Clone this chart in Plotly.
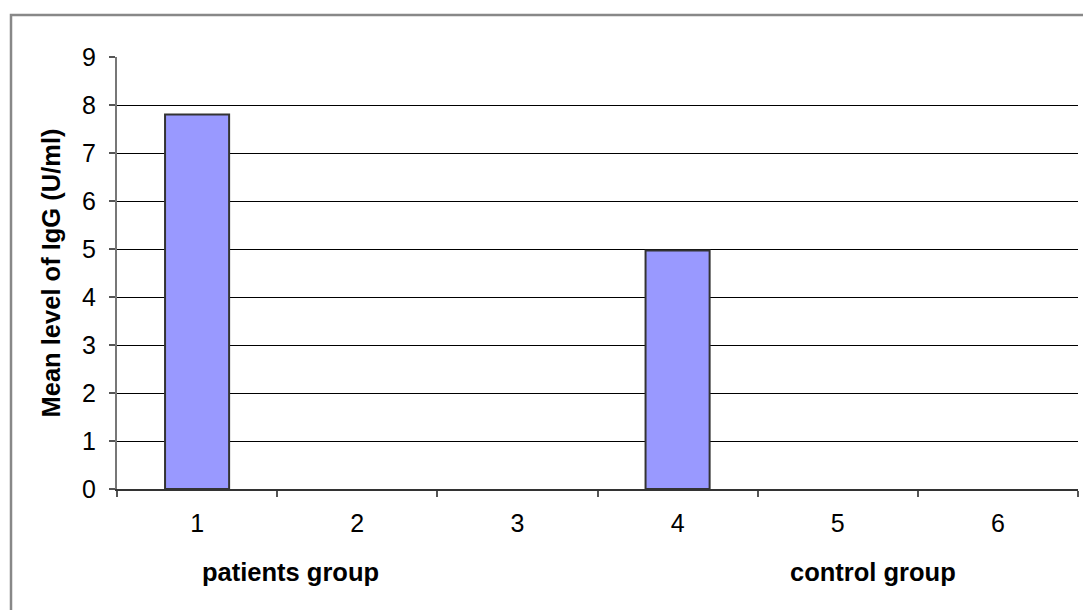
import plotly.graph_objects as go

categories = ["1", "2", "3", "4", "5", "6"]
values = [7.8, None, None, 4.97, None, None]
group_labels = ["patients group", "control group"]
y_title = "Mean level of IgG (U/ml)"

W, H = 1083, 610
L, R, T, B = 117, 5, 57, 121
pw, ph = W - L - R, H - T - B

def px_x(x):
    return (x - L) / pw

def px_y(y):
    return (H - B - y) / ph

fig = go.Figure()
fig.add_trace(go.Bar(
    x=categories, y=values, width=0.4,
    marker=dict(color="#9999FF", line=dict(color="#333333", width=2)),
))

font = dict(family="Liberation Sans, Arial, sans-serif", color="#000000")

fig.update_layout(
    width=W, height=H,
    margin=dict(l=L, r=R, t=T, b=B),
    plot_bgcolor="white", paper_bgcolor="white",
    showlegend=False,
    font=dict(**font, size=25),
    xaxis=dict(
        type="category", range=[-0.5, 5.5],
        tickson="boundaries", ticks="outside", ticklen=6, tickwidth=2,
        tickcolor="#555555", showgrid=False,
        showline=True, linecolor="#333333", linewidth=2,
        tickfont=dict(**font, size=25), ticklabelstandoff=11,
    ),
    yaxis=dict(
        range=[0, 9], dtick=1, ticks="outside", ticklen=6, tickwidth=2,
        tickcolor="#555555",
        showgrid=True, gridcolor="#000000", gridwidth=1,
        showline=True, linecolor="#777777", linewidth=2,
        zeroline=False,
        tickfont=dict(**font, size=25), ticklabelstandoff=8,
        title=dict(text="<b>" + y_title + "</b>", font=dict(**font, size=25.5), standoff=14),
    ),
    annotations=[
        dict(text="<b>" + group_labels[0] + "</b>", x=px_x(290), y=px_y(572),
             xref="paper", yref="paper", xanchor="center", yanchor="middle",
             showarrow=False, font=dict(**font, size=25.5)),
        dict(text="<b>" + group_labels[1] + "</b>", x=px_x(873), y=px_y(572),
             xref="paper", yref="paper", xanchor="center", yanchor="middle",
             showarrow=False, font=dict(**font, size=25.5)),
    ],
    shapes=[
        dict(type="rect", xref="paper", yref="paper",
             x0=px_x(11), x1=px_x(1100), y0=px_y(630), y1=px_y(15),
             line=dict(color="#888888", width=2.5), layer="below"),
    ],
)

fig.write_html("out.html")
